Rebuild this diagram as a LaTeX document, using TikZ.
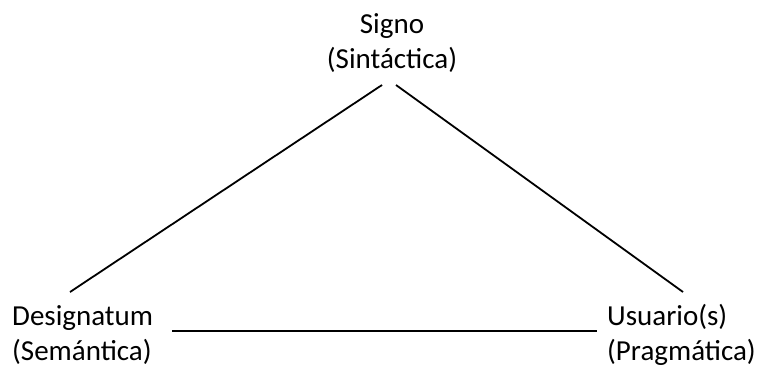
\documentclass[tikz,border=0pt]{standalone}
\usepackage{fontspec}
\setmainfont{Carlito}
\begin{document}
\begin{tikzpicture}[x=1pt,y=-1pt,
  lbl/.style={inner sep=0pt,font=\fontsize{29}{35}\selectfont},
  edge/.style={line width=1.8pt,black}]
\useasboundingbox (0,0) rectangle (759,367);
\node[lbl,align=center,anchor=base] (signo) at (392,68) {Signo\\(Sintáctica)};
\node[lbl,align=left,anchor=base west] (desig) at (12,360) {Designatum\\(Semántica)};
\node[lbl,align=left,anchor=base west] (usu) at (607,360) {Usuario(s)\\(Pragmática)};
\coordinate (sL) at (382,85);
\coordinate (sR) at (396,85);
\coordinate (dT) at (70,292);
\coordinate (dR) at (172,331);
\coordinate (uT) at (683,292);
\coordinate (uL) at (597,331);
\draw[edge] (sL) -- (dT);
\draw[edge] (sR) -- (uT);
\draw[edge] (dR) -- (uL);
\end{tikzpicture}
\end{document}
